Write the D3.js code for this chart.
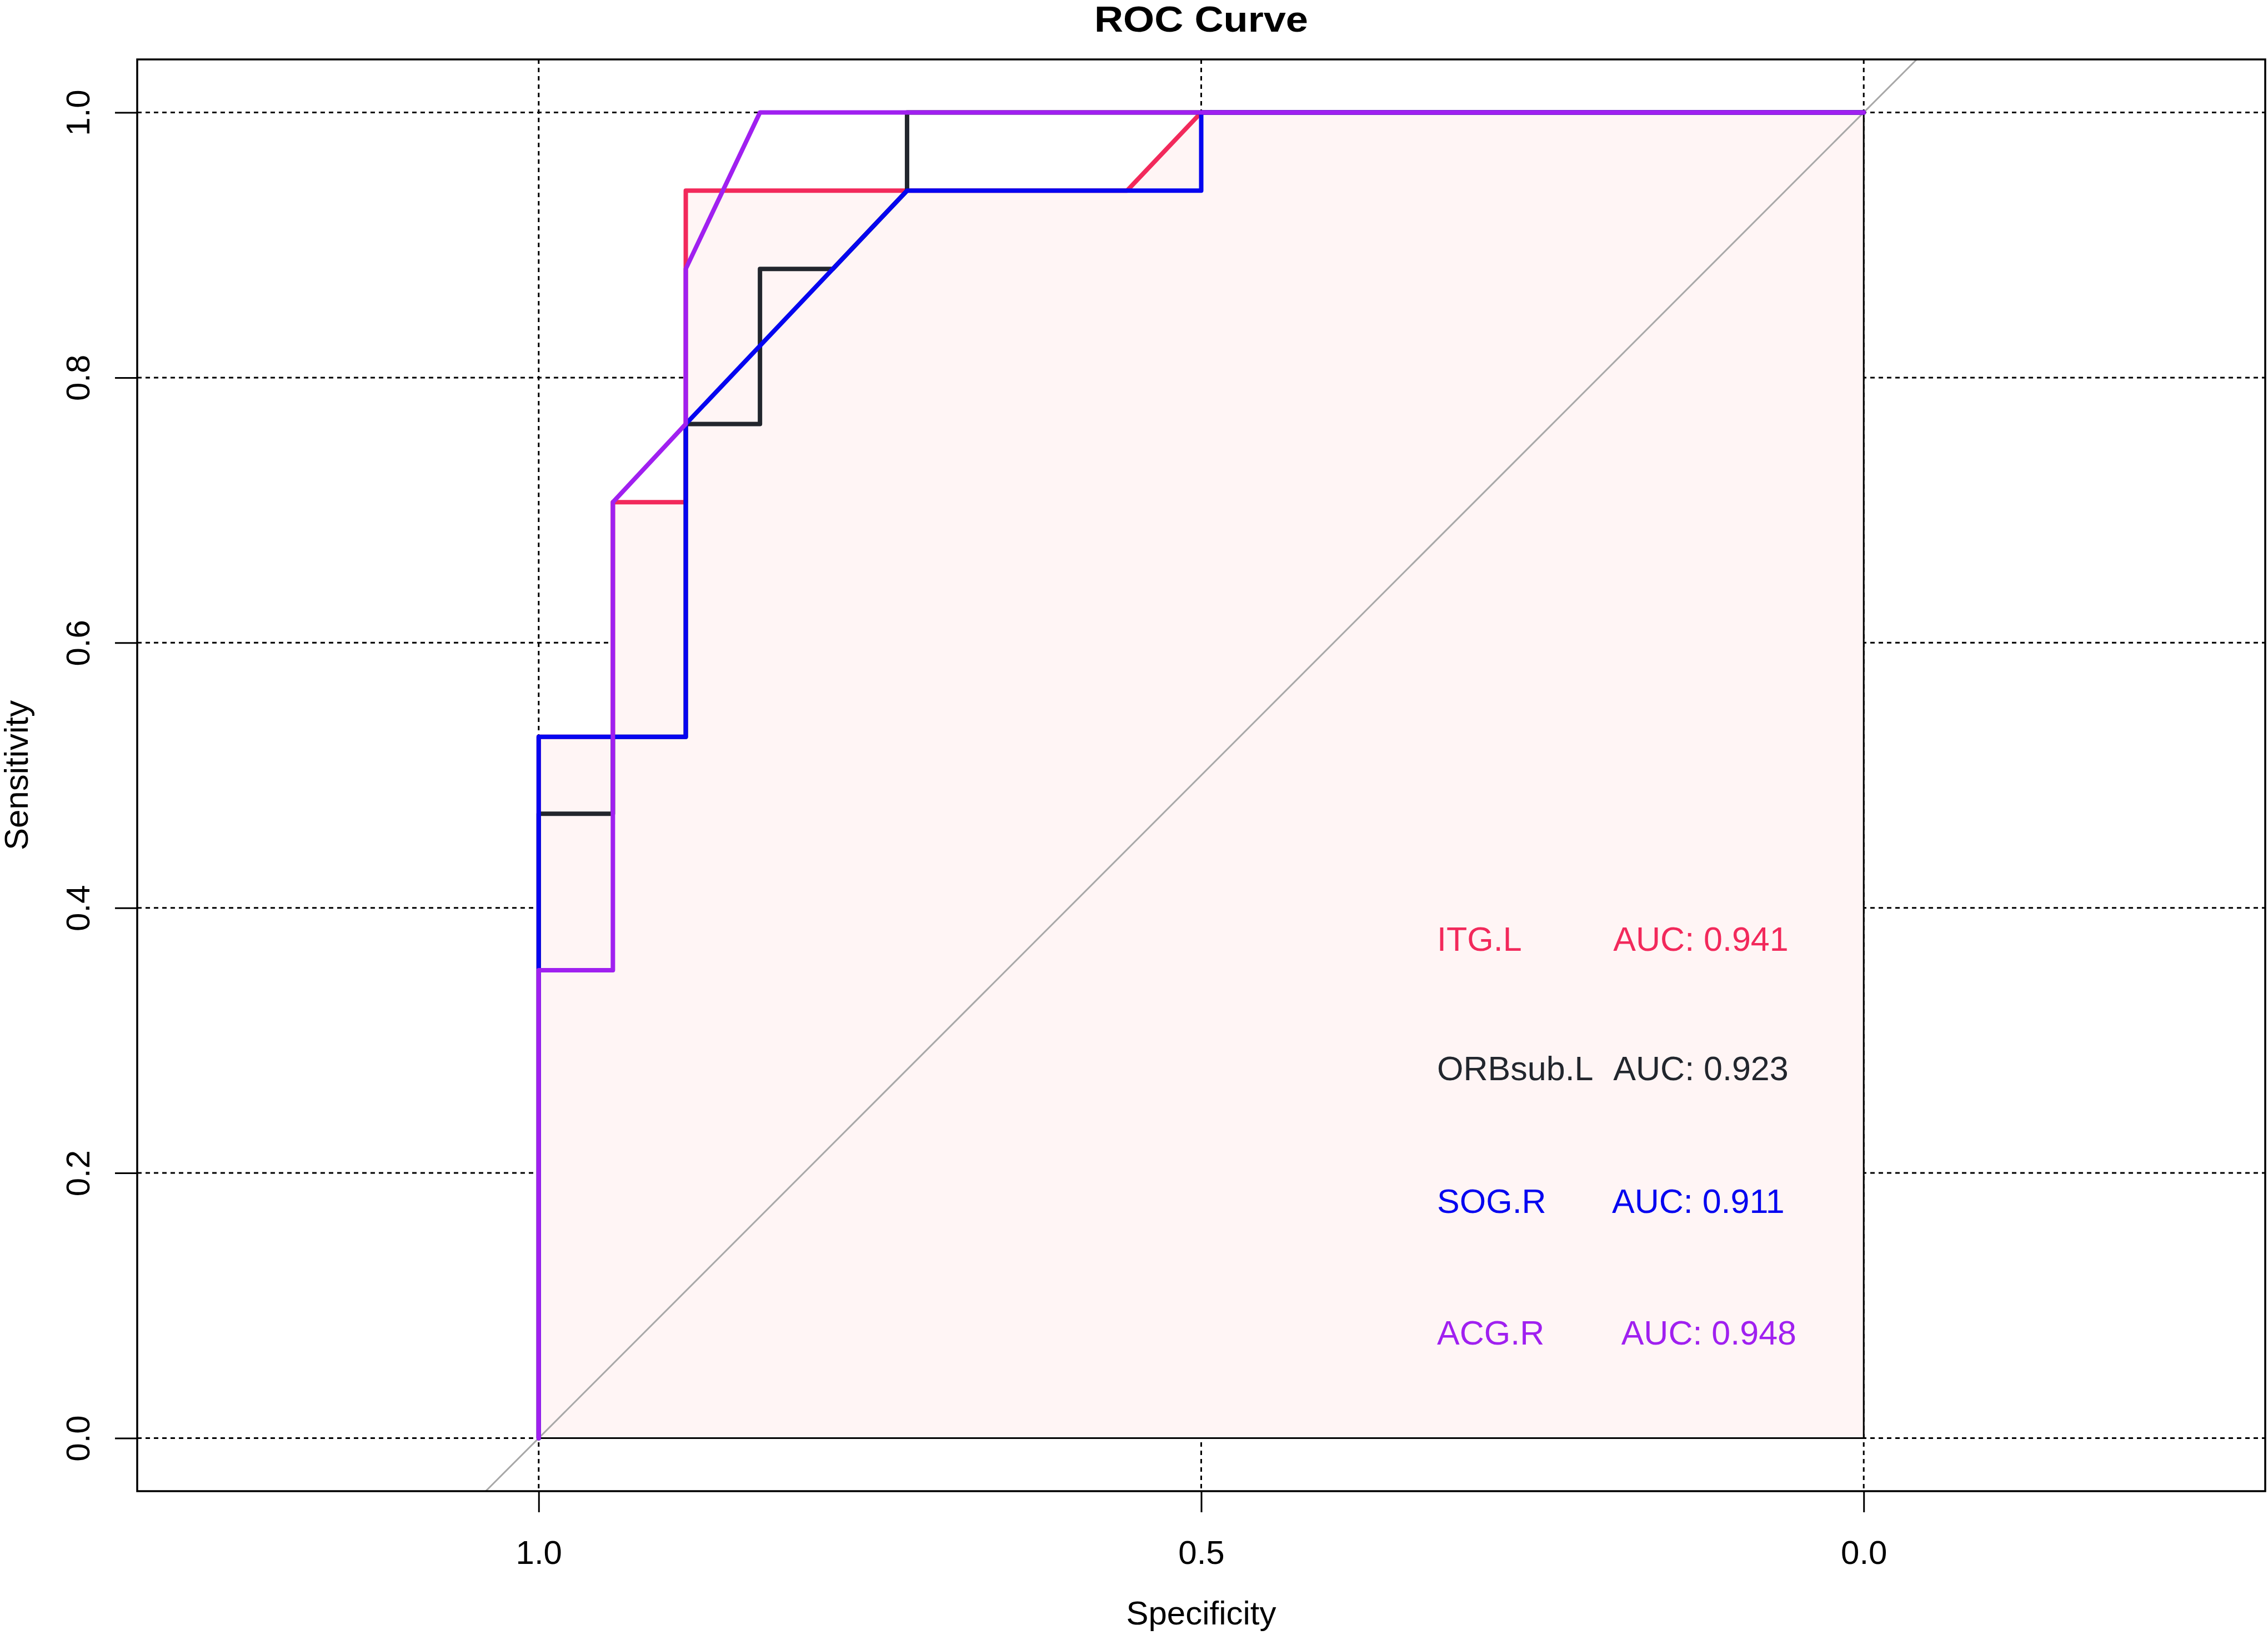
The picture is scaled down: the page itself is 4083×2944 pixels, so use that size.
<!DOCTYPE html>
<meta charset="utf-8">
<style>
body { margin: 0; background: #fff; }
svg { display: block; font-family: "Liberation Sans", Arial, sans-serif; }
.grid line { stroke: #000; stroke-width: 3; stroke-dasharray: 8,7; }
.axis path { display: none; }
.axis line { stroke: #000; stroke-width: 3; }
.axis text { font-size: 60px; fill: #000; font-family: "Liberation Sans", Arial, sans-serif; }
.curve { fill: none; stroke-width: 8; stroke-linejoin: round; stroke-linecap: round; }
.lab { font-size: 61px; }
</style>
<svg width="4083" height="2944"></svg>
<script src="https://cdn.jsdelivr.net/npm/d3@7"></script>
<script>

// ROC points: [specificity, sensitivity]
var itgL = [[1, 0], [1, 0.529], [0.944, 0.529], [0.944, 0.706], [0.889, 0.706],
            [0.889, 0.941], [0.556, 0.941], [0.5, 1], [0, 1]];
var orbsubL = [[1, 0], [1, 0.471], [0.944, 0.471], [0.944, 0.529], [0.889, 0.529],
               [0.889, 0.765], [0.833, 0.765], [0.833, 0.882], [0.778, 0.882],
               [0.722, 0.941], [0.722, 1], [0, 1]];
var sogR = [[1, 0], [1, 0.529], [0.889, 0.529], [0.889, 0.765], [0.722, 0.941],
            [0.5, 0.941], [0.5, 1], [0, 1]];
var acgR = [[1, 0], [1, 0.353], [0.944, 0.353], [0.944, 0.706], [0.889, 0.765],
            [0.889, 0.882], [0.833, 1], [0, 1]];

var names = ["ITG.L", "ORBsub.L", "SOG.R", "ACG.R"],
    aucs = [0.941, 0.923, 0.911, 0.948],
    colors = ["#f2295b", "#22262d", "#0505f0", "#a020f0"],
    curves = [itgL, orbsubL, sogR, acgR];

var xTicks = [1, 0.5, 0],
    yTicks = [0, 0.2, 0.4, 0.6, 0.8, 1];

// where the AUC labels sit (data units)
var labY = [0.377, 0.279, 0.179, 0.08],
    labNameX = 0.322,
    labAucX = [0.189, 0.189, 0.190, 0.183];

var svg = d3.select("svg");

var pLeft = 247, pRight = 4078, pTop = 107, pBottom = 2685;

var x = d3.scaleLinear().domain([1.303, -0.303]).range([pLeft, pRight]),
    y = d3.scaleLinear().domain([-0.04, 1.04]).range([pBottom, pTop]);

svg.append("defs").append("clipPath").attr("id", "box")
  .append("rect")
    .attr("x", pLeft).attr("y", pTop)
    .attr("width", pRight - pLeft).attr("height", pBottom - pTop);

// grid
var grid = svg.append("g").attr("class", "grid");
grid.selectAll(".gx").data(xTicks).enter().append("line")
    .attr("x1", function(d) { return x(d); }).attr("x2", function(d) { return x(d); })
    .attr("y1", pTop).attr("y2", pBottom);
grid.selectAll(".gy").data(yTicks).enter().append("line")
    .attr("y1", function(d) { return y(d); }).attr("y2", function(d) { return y(d); })
    .attr("x1", pLeft).attr("x2", pRight);

var line = d3.line()
    .x(function(d) { return x(d[0]); })
    .y(function(d) { return y(d[1]); });

// auc polygon of the first curve
svg.append("path")
    .attr("d", line(itgL.concat([[0, 0]])) + "Z")
    .attr("fill", "#fff5f5")
    .attr("stroke", "#000")
    .attr("stroke-width", 3);

// identity line
svg.append("path")
    .attr("clip-path", "url(#box)")
    .attr("d", line([[1.04, -0.04], [-0.04, 1.04]]))
    .attr("stroke", "#a8a8a8")
    .attr("stroke-width", 3)
    .attr("fill", "none");

svg.selectAll(".curve")
    .data(curves)
  .enter().append("path")
    .attr("class", "curve")
    .attr("d", line)
    .attr("stroke", function(d, i) { return colors[i]; });

// axes
var xAxis = svg.append("g")
    .attr("class", "axis")
    .attr("transform", "translate(0," + pBottom + ")")
    .call(d3.axisBottom(x).tickValues(xTicks).tickFormat(d3.format(".1f")).tickSize(38).tickPadding(50));

var yAxis = svg.append("g")
    .attr("class", "axis")
    .attr("transform", "translate(" + pLeft + ",0)")
    .call(d3.axisLeft(y).tickValues(yTicks).tickFormat(d3.format(".1f")).tickSize(40));

yAxis.selectAll("text")
    .attr("x", null)
    .attr("dy", null)
    .attr("text-anchor", "middle")
    .attr("transform", "translate(-86,0) rotate(-90)");

// frame
svg.append("rect")
    .attr("x", pLeft).attr("y", pTop)
    .attr("width", pRight - pLeft).attr("height", pBottom - pTop)
    .attr("fill", "none")
    .attr("stroke", "#000")
    .attr("stroke-width", 3.5);

// labels
var lab = svg.append("g").selectAll("g")
    .data(names)
  .enter().append("g")
    .attr("fill", function(d, i) { return colors[i]; });

lab.append("text")
    .attr("class", "lab")
    .attr("x", x(labNameX))
    .attr("y", function(d, i) { return y(labY[i]); })
    .attr("dy", "0.36em")
    .text(function(d) { return d; });

lab.append("text")
    .attr("class", "lab")
    .attr("x", function(d, i) { return x(labAucX[i]); })
    .attr("y", function(d, i) { return y(labY[i]); })
    .attr("dy", "0.36em")
    .text(function(d, i) { return "AUC: " + aucs[i].toFixed(3); });

svg.append("text")
    .attr("x", (x(1) + x(0)) / 2)
    .attr("y", 57)
    .attr("text-anchor", "middle")
    .attr("font-weight", "bold")
    .attr("font-size", 64)
    .attr("textLength", 385)
    .attr("lengthAdjust", "spacingAndGlyphs")
    .text("ROC Curve");

svg.append("text")
    .attr("x", (x(1) + x(0)) / 2)
    .attr("y", 2925)
    .attr("text-anchor", "middle")
    .attr("font-size", 60)
    .text("Specificity");

svg.append("text")
    .attr("transform", "translate(50," + (pTop + pBottom) / 2 + ") rotate(-90)")
    .attr("text-anchor", "middle")
    .attr("font-size", 60)
    .text("Sensitivity");

</script>
